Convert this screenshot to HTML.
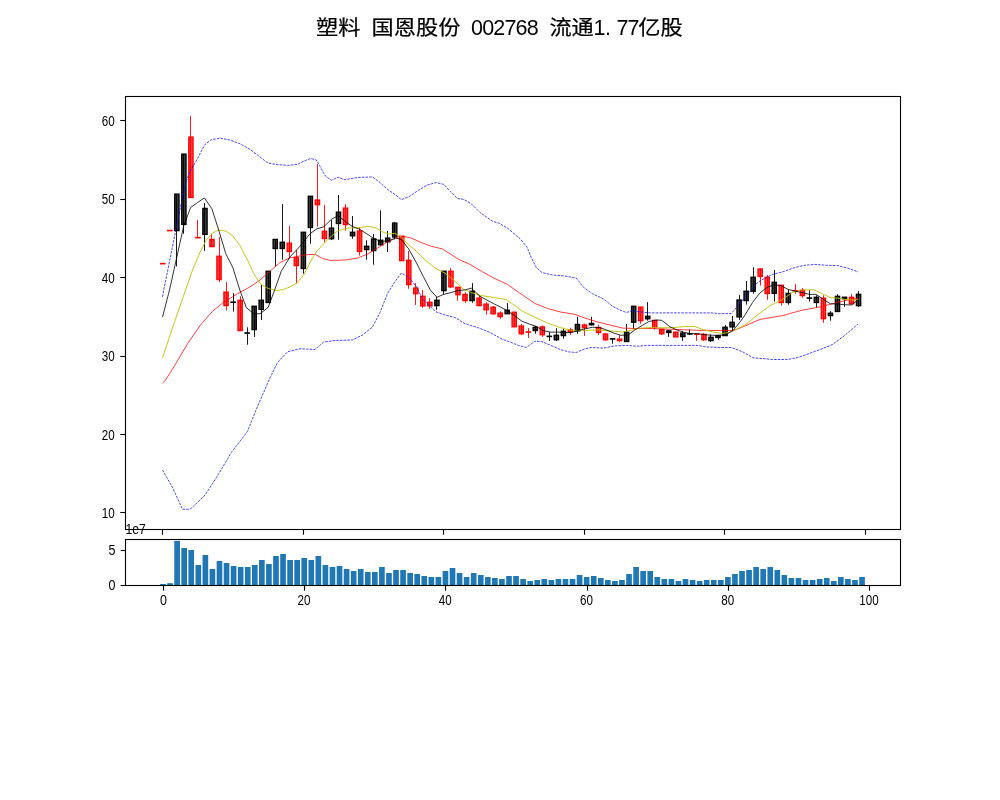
<!DOCTYPE html>
<html lang="zh"><head><meta charset="utf-8"><title>塑料 国恩股份 002768</title>
<style>html,body{margin:0;padding:0;background:#fff}body{width:1000px;height:800px;overflow:hidden}svg{display:block}.n{font-family:"Liberation Sans",sans-serif;font-size:14px;fill:#000}.t{font-family:"Liberation Sans","Noto Sans CJK SC",sans-serif;font-size:20.6px;fill:#000}</style></head><body>
<svg width="1000" height="800" viewBox="0 0 1000 800">
<rect width="1000" height="800" fill="#fff"/>
<g id="title">
<text class="t" stroke="#000" stroke-width="0.22" transform="translate(316.1,34.8) scale(1.077,1)" x="0 20.61">塑料</text>
<text class="t" stroke="#000" stroke-width="0.22" transform="translate(371.6,34.8) scale(1.077,1)" x="0 20.61 41.23 61.84">国恩股份</text>
<text class="t" style="font-size:21.5px" y="34.8" x="471 482.15 493.3 504.45 515.6 526.75">002768</text>
<text class="t" stroke="#000" stroke-width="0.22" transform="translate(549.4,34.8) scale(1.077,1)" x="0 20.61">流通</text>
<text class="t" style="font-size:21.5px" y="34.8" x="593.6 605.1 616.4 627.6">1.77</text>
<text class="t" stroke="#000" stroke-width="0.22" transform="translate(638.3,34.8) scale(1.077,1)" x="0 20.61">亿股</text>
</g>
<g id="vol" fill="#1f77b4">
<rect x="160.18" y="584" width="5.65" height="1.5"/>
<rect x="167.24" y="583.2" width="5.65" height="2.3"/>
<rect x="174.3" y="540.9" width="5.65" height="44.6"/>
<rect x="181.36" y="548" width="5.65" height="37.5"/>
<rect x="188.42" y="550" width="5.65" height="35.5"/>
<rect x="195.48" y="565" width="5.65" height="20.5"/>
<rect x="202.54" y="555" width="5.65" height="30.5"/>
<rect x="209.6" y="569" width="5.65" height="16.5"/>
<rect x="216.66" y="561" width="5.65" height="24.5"/>
<rect x="223.72" y="563" width="5.65" height="22.5"/>
<rect x="230.79" y="566" width="5.65" height="19.5"/>
<rect x="237.85" y="567" width="5.65" height="18.5"/>
<rect x="244.91" y="567" width="5.65" height="18.5"/>
<rect x="251.97" y="565" width="5.65" height="20.5"/>
<rect x="259.03" y="560" width="5.65" height="25.5"/>
<rect x="266.09" y="564" width="5.65" height="21.5"/>
<rect x="273.15" y="556" width="5.65" height="29.5"/>
<rect x="280.21" y="554" width="5.65" height="31.5"/>
<rect x="287.27" y="560" width="5.65" height="25.5"/>
<rect x="294.33" y="560" width="5.65" height="25.5"/>
<rect x="301.4" y="558" width="5.65" height="27.5"/>
<rect x="308.46" y="560" width="5.65" height="25.5"/>
<rect x="315.52" y="556" width="5.65" height="29.5"/>
<rect x="322.58" y="565" width="5.65" height="20.5"/>
<rect x="329.64" y="567" width="5.65" height="18.5"/>
<rect x="336.7" y="566" width="5.65" height="19.5"/>
<rect x="343.76" y="569" width="5.65" height="16.5"/>
<rect x="350.82" y="571" width="5.65" height="14.5"/>
<rect x="357.88" y="569" width="5.65" height="16.5"/>
<rect x="364.94" y="572" width="5.65" height="13.5"/>
<rect x="372" y="572" width="5.65" height="13.5"/>
<rect x="379.07" y="567" width="5.65" height="18.5"/>
<rect x="386.13" y="573" width="5.65" height="12.5"/>
<rect x="393.19" y="570" width="5.65" height="15.5"/>
<rect x="400.25" y="570" width="5.65" height="15.5"/>
<rect x="407.31" y="573" width="5.65" height="12.5"/>
<rect x="414.37" y="574" width="5.65" height="11.5"/>
<rect x="421.43" y="576" width="5.65" height="9.5"/>
<rect x="428.49" y="577" width="5.65" height="8.5"/>
<rect x="435.55" y="577" width="5.65" height="8.5"/>
<rect x="442.62" y="571" width="5.65" height="14.5"/>
<rect x="449.68" y="568" width="5.65" height="17.5"/>
<rect x="456.74" y="573" width="5.65" height="12.5"/>
<rect x="463.8" y="577" width="5.65" height="8.5"/>
<rect x="470.86" y="573" width="5.65" height="12.5"/>
<rect x="477.92" y="575" width="5.65" height="10.5"/>
<rect x="484.98" y="577" width="5.65" height="8.5"/>
<rect x="492.04" y="578" width="5.65" height="7.5"/>
<rect x="499.1" y="579" width="5.65" height="6.5"/>
<rect x="506.16" y="576" width="5.65" height="9.5"/>
<rect x="513.22" y="576" width="5.65" height="9.5"/>
<rect x="520.29" y="579" width="5.65" height="6.5"/>
<rect x="527.35" y="581" width="5.65" height="4.5"/>
<rect x="534.41" y="580" width="5.65" height="5.5"/>
<rect x="541.47" y="579" width="5.65" height="6.5"/>
<rect x="548.53" y="580" width="5.65" height="5.5"/>
<rect x="555.59" y="579" width="5.65" height="6.5"/>
<rect x="562.65" y="579" width="5.65" height="6.5"/>
<rect x="569.71" y="579" width="5.65" height="6.5"/>
<rect x="576.77" y="575" width="5.65" height="10.5"/>
<rect x="583.83" y="577" width="5.65" height="8.5"/>
<rect x="590.9" y="576" width="5.65" height="9.5"/>
<rect x="597.96" y="578" width="5.65" height="7.5"/>
<rect x="605.02" y="580" width="5.65" height="5.5"/>
<rect x="612.08" y="581" width="5.65" height="4.5"/>
<rect x="619.14" y="580" width="5.65" height="5.5"/>
<rect x="626.2" y="574" width="5.65" height="11.5"/>
<rect x="633.26" y="567" width="5.65" height="18.5"/>
<rect x="640.32" y="571" width="5.65" height="14.5"/>
<rect x="647.38" y="571" width="5.65" height="14.5"/>
<rect x="654.44" y="577" width="5.65" height="8.5"/>
<rect x="661.51" y="579" width="5.65" height="6.5"/>
<rect x="668.57" y="579" width="5.65" height="6.5"/>
<rect x="675.63" y="581" width="5.65" height="4.5"/>
<rect x="682.69" y="579" width="5.65" height="6.5"/>
<rect x="689.75" y="580" width="5.65" height="5.5"/>
<rect x="696.81" y="581" width="5.65" height="4.5"/>
<rect x="703.87" y="580" width="5.65" height="5.5"/>
<rect x="710.93" y="580" width="5.65" height="5.5"/>
<rect x="717.99" y="580" width="5.65" height="5.5"/>
<rect x="725.05" y="577" width="5.65" height="8.5"/>
<rect x="732.12" y="574" width="5.65" height="11.5"/>
<rect x="739.18" y="571" width="5.65" height="14.5"/>
<rect x="746.24" y="570" width="5.65" height="15.5"/>
<rect x="753.3" y="567" width="5.65" height="18.5"/>
<rect x="760.36" y="569" width="5.65" height="16.5"/>
<rect x="767.42" y="567" width="5.65" height="18.5"/>
<rect x="774.48" y="570" width="5.65" height="15.5"/>
<rect x="781.54" y="575" width="5.65" height="10.5"/>
<rect x="788.6" y="578" width="5.65" height="7.5"/>
<rect x="795.66" y="578" width="5.65" height="7.5"/>
<rect x="802.73" y="580" width="5.65" height="5.5"/>
<rect x="809.79" y="580" width="5.65" height="5.5"/>
<rect x="816.85" y="579" width="5.65" height="6.5"/>
<rect x="823.91" y="578" width="5.65" height="7.5"/>
<rect x="830.97" y="581" width="5.65" height="4.5"/>
<rect x="838.03" y="577" width="5.65" height="8.5"/>
<rect x="845.09" y="579" width="5.65" height="6.5"/>
<rect x="852.15" y="580" width="5.65" height="5.5"/>
<rect x="859.21" y="577" width="5.65" height="8.5"/>
</g>
<g id="candles" stroke-linecap="butt">
<rect x="160.65" y="263.5" width="4.3" height="0.3" fill="#ff3c3c" stroke="#ff0000" stroke-width="1.3"/>
<rect x="167.68" y="230.4" width="4.3" height="0.3" fill="#ff3c3c" stroke="#ff0000" stroke-width="1.3"/>
<rect x="174.71" y="194.1" width="4.3" height="36.5" fill="#3a3a3a" stroke="#000000" stroke-width="1.3"/>
<path d="M176.5 194.1V266.5" stroke="#000000" stroke-width="0.9" fill="none"/>
<rect x="181.73" y="154.1" width="4.3" height="70.3" fill="#3a3a3a" stroke="#000000" stroke-width="1.3"/>
<path d="M183.5 154.1V233.75" stroke="#000000" stroke-width="0.9" fill="none"/>
<rect x="188.76" y="137.1" width="4.3" height="60.4" fill="#ff3c3c" stroke="#ff0000" stroke-width="1.3"/>
<path d="M190.5 116V197.5" stroke="#ff0000" stroke-width="0.9" fill="none"/>
<rect x="195.79" y="237.5" width="4.3" height="0.3" fill="#ff3c3c" stroke="#ff0000" stroke-width="1.3"/>
<path d="M197.5 220V237.5" stroke="#ff0000" stroke-width="0.9" fill="none"/>
<rect x="202.82" y="208.4" width="4.3" height="26" fill="#3a3a3a" stroke="#000000" stroke-width="1.3"/>
<path d="M204.5 203.1V250.9" stroke="#000000" stroke-width="0.9" fill="none"/>
<rect x="209.85" y="239.4" width="4.3" height="7.2" fill="#ff3c3c" stroke="#ff0000" stroke-width="1.3"/>
<path d="M211.5 233.75V246.6" stroke="#ff0000" stroke-width="0.9" fill="none"/>
<rect x="216.87" y="256.25" width="4.3" height="23.35" fill="#ff3c3c" stroke="#ff0000" stroke-width="1.3"/>
<path d="M219.5 236.9V281.9" stroke="#ff0000" stroke-width="0.9" fill="none"/>
<rect x="223.9" y="292.1" width="4.3" height="13.5" fill="#ff3c3c" stroke="#ff0000" stroke-width="1.3"/>
<path d="M226.5 282.1V310.6" stroke="#ff0000" stroke-width="0.9" fill="none"/>
<rect x="230.93" y="302.1" width="4.3" height="0.3" fill="#3a3a3a" stroke="#000000" stroke-width="1.3"/>
<path d="M233.5 293.1V311.6" stroke="#000000" stroke-width="0.9" fill="none"/>
<rect x="237.96" y="300.25" width="4.3" height="30.35" fill="#ff3c3c" stroke="#ff0000" stroke-width="1.3"/>
<path d="M240.5 296.25V330.6" stroke="#ff0000" stroke-width="0.9" fill="none"/>
<rect x="244.99" y="332.9" width="4.3" height="0.3" fill="#3a3a3a" stroke="#000000" stroke-width="1.3"/>
<path d="M247.5 327.25V344.75" stroke="#000000" stroke-width="0.9" fill="none"/>
<rect x="252.01" y="306.25" width="4.3" height="23.35" fill="#3a3a3a" stroke="#000000" stroke-width="1.3"/>
<path d="M254.5 306.25V336.9" stroke="#000000" stroke-width="0.9" fill="none"/>
<rect x="259.04" y="300.25" width="4.3" height="9.15" fill="#3a3a3a" stroke="#000000" stroke-width="1.3"/>
<path d="M261.5 285V320" stroke="#000000" stroke-width="0.9" fill="none"/>
<rect x="266.07" y="271.25" width="4.3" height="31.25" fill="#3a3a3a" stroke="#000000" stroke-width="1.3"/>
<path d="M268.5 271.25V303" stroke="#000000" stroke-width="0.9" fill="none"/>
<rect x="273.1" y="239.4" width="4.3" height="9.1" fill="#3a3a3a" stroke="#000000" stroke-width="1.3"/>
<path d="M275.5 239.4V266.25" stroke="#000000" stroke-width="0.9" fill="none"/>
<rect x="280.13" y="242.25" width="4.3" height="6.25" fill="#3a3a3a" stroke="#000000" stroke-width="1.3"/>
<path d="M282.5 204.1V259.75" stroke="#000000" stroke-width="0.9" fill="none"/>
<rect x="287.15" y="243.1" width="4.3" height="8.4" fill="#ff3c3c" stroke="#ff0000" stroke-width="1.3"/>
<path d="M289.5 226V258.5" stroke="#ff0000" stroke-width="0.9" fill="none"/>
<rect x="294.18" y="257.75" width="4.3" height="7.85" fill="#ff3c3c" stroke="#ff0000" stroke-width="1.3"/>
<path d="M296.5 250V283.5" stroke="#ff0000" stroke-width="0.9" fill="none"/>
<rect x="301.21" y="232.25" width="4.3" height="36.25" fill="#3a3a3a" stroke="#000000" stroke-width="1.3"/>
<path d="M303.5 232.25V273.75" stroke="#000000" stroke-width="0.9" fill="none"/>
<rect x="308.24" y="196.25" width="4.3" height="31.25" fill="#3a3a3a" stroke="#000000" stroke-width="1.3"/>
<path d="M310.5 196.25V243.75" stroke="#000000" stroke-width="0.9" fill="none"/>
<rect x="315.27" y="200" width="4.3" height="4.75" fill="#ff3c3c" stroke="#ff0000" stroke-width="1.3"/>
<path d="M317.5 164V226.6" stroke="#ff0000" stroke-width="0.9" fill="none"/>
<rect x="322.29" y="231.25" width="4.3" height="7.25" fill="#ff3c3c" stroke="#ff0000" stroke-width="1.3"/>
<path d="M324.5 205V242.5" stroke="#ff0000" stroke-width="0.9" fill="none"/>
<rect x="329.32" y="228.1" width="4.3" height="10.65" fill="#3a3a3a" stroke="#000000" stroke-width="1.3"/>
<path d="M331.5 220V239.75" stroke="#000000" stroke-width="0.9" fill="none"/>
<rect x="336.35" y="212.1" width="4.3" height="11.4" fill="#3a3a3a" stroke="#000000" stroke-width="1.3"/>
<path d="M338.5 195V239.75" stroke="#000000" stroke-width="0.9" fill="none"/>
<rect x="343.38" y="208.1" width="4.3" height="16.5" fill="#ff3c3c" stroke="#ff0000" stroke-width="1.3"/>
<path d="M345.5 204.1V230.6" stroke="#ff0000" stroke-width="0.9" fill="none"/>
<rect x="350.41" y="232.25" width="4.3" height="3.5" fill="#3a3a3a" stroke="#000000" stroke-width="1.3"/>
<path d="M352.5 216V238.75" stroke="#000000" stroke-width="0.9" fill="none"/>
<rect x="357.43" y="231" width="4.3" height="20.5" fill="#ff3c3c" stroke="#ff0000" stroke-width="1.3"/>
<path d="M359.5 228.1V255.6" stroke="#ff0000" stroke-width="0.9" fill="none"/>
<rect x="364.46" y="246.25" width="4.3" height="3.35" fill="#3a3a3a" stroke="#000000" stroke-width="1.3"/>
<path d="M366.5 240.25V259.75" stroke="#000000" stroke-width="0.9" fill="none"/>
<rect x="371.49" y="239" width="4.3" height="11.6" fill="#3a3a3a" stroke="#000000" stroke-width="1.3"/>
<path d="M373.5 234V264.75" stroke="#000000" stroke-width="0.9" fill="none"/>
<rect x="378.52" y="240.25" width="4.3" height="4.5" fill="#3a3a3a" stroke="#000000" stroke-width="1.3"/>
<path d="M380.5 210.25V245.6" stroke="#000000" stroke-width="0.9" fill="none"/>
<rect x="385.55" y="238.1" width="4.3" height="3.8" fill="#3a3a3a" stroke="#000000" stroke-width="1.3"/>
<path d="M387.5 231V251.9" stroke="#000000" stroke-width="0.9" fill="none"/>
<rect x="392.57" y="223.1" width="4.3" height="13.9" fill="#3a3a3a" stroke="#000000" stroke-width="1.3"/>
<path d="M394.5 221.9V239.4" stroke="#000000" stroke-width="0.9" fill="none"/>
<rect x="399.6" y="236.25" width="4.3" height="24.35" fill="#ff3c3c" stroke="#ff0000" stroke-width="1.3"/>
<path d="M401.5 236.25V260.6" stroke="#ff0000" stroke-width="0.9" fill="none"/>
<rect x="406.63" y="260.25" width="4.3" height="24.35" fill="#ff3c3c" stroke="#ff0000" stroke-width="1.3"/>
<path d="M408.5 251V288.75" stroke="#ff0000" stroke-width="0.9" fill="none"/>
<rect x="413.66" y="288.1" width="4.3" height="5.65" fill="#ff3c3c" stroke="#ff0000" stroke-width="1.3"/>
<path d="M415.5 283.1V305" stroke="#ff0000" stroke-width="0.9" fill="none"/>
<rect x="420.69" y="296.25" width="4.3" height="9.65" fill="#ff3c3c" stroke="#ff0000" stroke-width="1.3"/>
<path d="M422.5 290V307.9" stroke="#ff0000" stroke-width="0.9" fill="none"/>
<rect x="427.71" y="302.25" width="4.3" height="3.65" fill="#ff3c3c" stroke="#ff0000" stroke-width="1.3"/>
<path d="M429.5 298.1V308.75" stroke="#ff0000" stroke-width="0.9" fill="none"/>
<rect x="434.74" y="300.25" width="4.3" height="5.35" fill="#3a3a3a" stroke="#000000" stroke-width="1.3"/>
<path d="M436.5 296.9V309.75" stroke="#000000" stroke-width="0.9" fill="none"/>
<rect x="441.77" y="271.25" width="4.3" height="19.35" fill="#3a3a3a" stroke="#000000" stroke-width="1.3"/>
<path d="M443.5 271.25V294.4" stroke="#000000" stroke-width="0.9" fill="none"/>
<rect x="448.8" y="271.25" width="4.3" height="15.65" fill="#ff3c3c" stroke="#ff0000" stroke-width="1.3"/>
<path d="M450.5 268.1V287.9" stroke="#ff0000" stroke-width="0.9" fill="none"/>
<rect x="455.83" y="287.25" width="4.3" height="7.5" fill="#ff3c3c" stroke="#ff0000" stroke-width="1.3"/>
<path d="M457.5 287.25V300.6" stroke="#ff0000" stroke-width="0.9" fill="none"/>
<rect x="462.85" y="294.4" width="4.3" height="6.2" fill="#ff3c3c" stroke="#ff0000" stroke-width="1.3"/>
<path d="M465.5 292.25V302.75" stroke="#ff0000" stroke-width="0.9" fill="none"/>
<rect x="469.88" y="291.25" width="4.3" height="9.35" fill="#3a3a3a" stroke="#000000" stroke-width="1.3"/>
<path d="M472.5 283.1V302.75" stroke="#000000" stroke-width="0.9" fill="none"/>
<rect x="476.91" y="298.1" width="4.3" height="7.5" fill="#ff3c3c" stroke="#ff0000" stroke-width="1.3"/>
<path d="M479.5 295.6V305.6" stroke="#ff0000" stroke-width="0.9" fill="none"/>
<rect x="483.94" y="304.1" width="4.3" height="5.65" fill="#ff3c3c" stroke="#ff0000" stroke-width="1.3"/>
<path d="M486.5 302.25V314.75" stroke="#ff0000" stroke-width="0.9" fill="none"/>
<rect x="490.97" y="307.25" width="4.3" height="6.5" fill="#ff3c3c" stroke="#ff0000" stroke-width="1.3"/>
<path d="M493.5 306V314.75" stroke="#ff0000" stroke-width="0.9" fill="none"/>
<rect x="497.99" y="313.1" width="4.3" height="3.5" fill="#ff3c3c" stroke="#ff0000" stroke-width="1.3"/>
<path d="M500.5 311.25V318.75" stroke="#ff0000" stroke-width="0.9" fill="none"/>
<rect x="505.02" y="310.25" width="4.3" height="3.5" fill="#3a3a3a" stroke="#000000" stroke-width="1.3"/>
<path d="M507.5 303.1V313.75" stroke="#000000" stroke-width="0.9" fill="none"/>
<rect x="512.05" y="312.2" width="4.3" height="14.6" fill="#ff3c3c" stroke="#ff0000" stroke-width="1.3"/>
<path d="M514.5 312.2V326.8" stroke="#ff0000" stroke-width="0.9" fill="none"/>
<rect x="519.08" y="326" width="4.3" height="7.75" fill="#ff3c3c" stroke="#ff0000" stroke-width="1.3"/>
<path d="M521.5 324V335" stroke="#ff0000" stroke-width="0.9" fill="none"/>
<rect x="526.11" y="331.9" width="4.3" height="0.3" fill="#ff3c3c" stroke="#ff0000" stroke-width="1.3"/>
<path d="M528.5 328.1V337.9" stroke="#ff0000" stroke-width="0.9" fill="none"/>
<rect x="533.13" y="327.25" width="4.3" height="3.35" fill="#3a3a3a" stroke="#000000" stroke-width="1.3"/>
<path d="M535.5 326V333.75" stroke="#000000" stroke-width="0.9" fill="none"/>
<rect x="540.16" y="326.9" width="4.3" height="7.85" fill="#ff3c3c" stroke="#ff0000" stroke-width="1.3"/>
<path d="M542.5 325.6V336.9" stroke="#ff0000" stroke-width="0.9" fill="none"/>
<rect x="547.19" y="336.25" width="4.3" height="0.3" fill="#3a3a3a" stroke="#000000" stroke-width="1.3"/>
<path d="M549.5 332.1V341" stroke="#000000" stroke-width="0.9" fill="none"/>
<rect x="554.22" y="335.25" width="4.3" height="4.5" fill="#3a3a3a" stroke="#000000" stroke-width="1.3"/>
<path d="M556.5 328.1V341" stroke="#000000" stroke-width="0.9" fill="none"/>
<rect x="561.25" y="331.25" width="4.3" height="4.35" fill="#3a3a3a" stroke="#000000" stroke-width="1.3"/>
<path d="M563.5 328.75V338.75" stroke="#000000" stroke-width="0.9" fill="none"/>
<rect x="568.27" y="330" width="4.3" height="1.9" fill="#ff3c3c" stroke="#ff0000" stroke-width="1.3"/>
<path d="M570.5 327.75V334.75" stroke="#ff0000" stroke-width="0.9" fill="none"/>
<rect x="575.3" y="324.4" width="4.3" height="6.5" fill="#3a3a3a" stroke="#000000" stroke-width="1.3"/>
<path d="M577.5 316.9V333.75" stroke="#000000" stroke-width="0.9" fill="none"/>
<rect x="582.33" y="325" width="4.3" height="2.75" fill="#ff3c3c" stroke="#ff0000" stroke-width="1.3"/>
<path d="M584.5 323.75V335.9" stroke="#ff0000" stroke-width="0.9" fill="none"/>
<rect x="589.36" y="323.4" width="4.3" height="1.35" fill="#3a3a3a" stroke="#000000" stroke-width="1.3"/>
<path d="M591.5 316.9V325.6" stroke="#000000" stroke-width="0.9" fill="none"/>
<rect x="596.39" y="327.5" width="4.3" height="5" fill="#ff3c3c" stroke="#ff0000" stroke-width="1.3"/>
<path d="M598.5 324.75V334.75" stroke="#ff0000" stroke-width="0.9" fill="none"/>
<rect x="603.41" y="334" width="4.3" height="5.75" fill="#ff3c3c" stroke="#ff0000" stroke-width="1.3"/>
<path d="M605.5 332.9V340.6" stroke="#ff0000" stroke-width="0.9" fill="none"/>
<rect x="610.44" y="338.75" width="4.3" height="0.3" fill="#3a3a3a" stroke="#000000" stroke-width="1.3"/>
<path d="M612.5 338.75V343.75" stroke="#000000" stroke-width="0.9" fill="none"/>
<rect x="617.47" y="339.1" width="4.3" height="1.5" fill="#ff3c3c" stroke="#ff0000" stroke-width="1.3"/>
<path d="M619.5 335V341.9" stroke="#ff0000" stroke-width="0.9" fill="none"/>
<rect x="624.5" y="332.25" width="4.3" height="9.25" fill="#3a3a3a" stroke="#000000" stroke-width="1.3"/>
<path d="M626.5 324V341.5" stroke="#000000" stroke-width="0.9" fill="none"/>
<rect x="631.53" y="306.25" width="4.3" height="16" fill="#3a3a3a" stroke="#000000" stroke-width="1.3"/>
<path d="M633.5 306.25V328.75" stroke="#000000" stroke-width="0.9" fill="none"/>
<rect x="638.55" y="307.1" width="4.3" height="13.5" fill="#ff3c3c" stroke="#ff0000" stroke-width="1.3"/>
<path d="M640.5 307.1V323.75" stroke="#ff0000" stroke-width="0.9" fill="none"/>
<rect x="645.58" y="316.25" width="4.3" height="2.5" fill="#3a3a3a" stroke="#000000" stroke-width="1.3"/>
<path d="M647.5 302.1V320.6" stroke="#000000" stroke-width="0.9" fill="none"/>
<rect x="652.61" y="320.4" width="4.3" height="7.1" fill="#ff3c3c" stroke="#ff0000" stroke-width="1.3"/>
<path d="M654.5 320.4V329.75" stroke="#ff0000" stroke-width="0.9" fill="none"/>
<rect x="659.64" y="329.4" width="4.3" height="4.35" fill="#ff3c3c" stroke="#ff0000" stroke-width="1.3"/>
<path d="M661.5 329.4V335" stroke="#ff0000" stroke-width="0.9" fill="none"/>
<rect x="666.67" y="330.9" width="4.3" height="1.6" fill="#3a3a3a" stroke="#000000" stroke-width="1.3"/>
<path d="M668.5 330V336.9" stroke="#000000" stroke-width="0.9" fill="none"/>
<rect x="673.69" y="332.1" width="4.3" height="4.8" fill="#ff3c3c" stroke="#ff0000" stroke-width="1.3"/>
<path d="M675.5 332.1V336.9" stroke="#ff0000" stroke-width="0.9" fill="none"/>
<rect x="680.72" y="333.1" width="4.3" height="3.5" fill="#3a3a3a" stroke="#000000" stroke-width="1.3"/>
<path d="M682.5 331.25V340.9" stroke="#000000" stroke-width="0.9" fill="none"/>
<rect x="687.75" y="333.75" width="4.3" height="0.3" fill="#3a3a3a" stroke="#000000" stroke-width="1.3"/>
<path d="M689.5 329.4V335" stroke="#000000" stroke-width="0.9" fill="none"/>
<rect x="694.78" y="334" width="4.3" height="0.3" fill="#ff3c3c" stroke="#ff0000" stroke-width="1.3"/>
<path d="M696.5 334V340.9" stroke="#ff0000" stroke-width="0.9" fill="none"/>
<rect x="701.81" y="334.4" width="4.3" height="5.35" fill="#ff3c3c" stroke="#ff0000" stroke-width="1.3"/>
<path d="M703.5 333.1V340.9" stroke="#ff0000" stroke-width="0.9" fill="none"/>
<rect x="708.83" y="337.25" width="4.3" height="3.35" fill="#3a3a3a" stroke="#000000" stroke-width="1.3"/>
<path d="M710.5 334.4V342.1" stroke="#000000" stroke-width="0.9" fill="none"/>
<rect x="715.86" y="335.6" width="4.3" height="1.9" fill="#3a3a3a" stroke="#000000" stroke-width="1.3"/>
<path d="M718.5 334.75V339.75" stroke="#000000" stroke-width="0.9" fill="none"/>
<rect x="722.89" y="327.25" width="4.3" height="8.35" fill="#3a3a3a" stroke="#000000" stroke-width="1.3"/>
<path d="M725.5 325V335.6" stroke="#000000" stroke-width="0.9" fill="none"/>
<rect x="729.92" y="322.25" width="4.3" height="4.65" fill="#3a3a3a" stroke="#000000" stroke-width="1.3"/>
<path d="M732.5 316V331.25" stroke="#000000" stroke-width="0.9" fill="none"/>
<rect x="736.95" y="300" width="4.3" height="16.9" fill="#3a3a3a" stroke="#000000" stroke-width="1.3"/>
<path d="M739.5 295V320" stroke="#000000" stroke-width="0.9" fill="none"/>
<rect x="743.97" y="291.25" width="4.3" height="9.35" fill="#3a3a3a" stroke="#000000" stroke-width="1.3"/>
<path d="M746.5 281V304.6" stroke="#000000" stroke-width="0.9" fill="none"/>
<rect x="751" y="277.25" width="4.3" height="14" fill="#3a3a3a" stroke="#000000" stroke-width="1.3"/>
<path d="M753.5 267.25V293.75" stroke="#000000" stroke-width="0.9" fill="none"/>
<rect x="758.03" y="269" width="4.3" height="7.5" fill="#ff3c3c" stroke="#ff0000" stroke-width="1.3"/>
<path d="M760.5 268.1V285.6" stroke="#ff0000" stroke-width="0.9" fill="none"/>
<rect x="765.06" y="277.25" width="4.3" height="16.25" fill="#ff3c3c" stroke="#ff0000" stroke-width="1.3"/>
<path d="M767.5 275V299.75" stroke="#ff0000" stroke-width="0.9" fill="none"/>
<rect x="772.09" y="282.25" width="4.3" height="11.15" fill="#3a3a3a" stroke="#000000" stroke-width="1.3"/>
<path d="M774.5 270V301.5" stroke="#000000" stroke-width="0.9" fill="none"/>
<rect x="779.11" y="285.25" width="4.3" height="17.25" fill="#ff3c3c" stroke="#ff0000" stroke-width="1.3"/>
<path d="M781.5 285.25V305.6" stroke="#ff0000" stroke-width="0.9" fill="none"/>
<rect x="786.14" y="293.4" width="4.3" height="9.1" fill="#3a3a3a" stroke="#000000" stroke-width="1.3"/>
<path d="M788.5 289.75V304.75" stroke="#000000" stroke-width="0.9" fill="none"/>
<rect x="793.17" y="290.6" width="4.3" height="0.3" fill="#ff3c3c" stroke="#ff0000" stroke-width="1.3"/>
<path d="M795.5 284V293.75" stroke="#ff0000" stroke-width="0.9" fill="none"/>
<rect x="800.2" y="290.25" width="4.3" height="5.35" fill="#ff3c3c" stroke="#ff0000" stroke-width="1.3"/>
<path d="M802.5 288.1V297.9" stroke="#ff0000" stroke-width="0.9" fill="none"/>
<rect x="807.23" y="297.9" width="4.3" height="0.3" fill="#3a3a3a" stroke="#000000" stroke-width="1.3"/>
<path d="M809.5 290.25V301.5" stroke="#000000" stroke-width="0.9" fill="none"/>
<rect x="814.25" y="297.25" width="4.3" height="5.25" fill="#3a3a3a" stroke="#000000" stroke-width="1.3"/>
<path d="M816.5 295.25V307.5" stroke="#000000" stroke-width="0.9" fill="none"/>
<rect x="821.28" y="298.2" width="4.3" height="20.5" fill="#ff3c3c" stroke="#ff0000" stroke-width="1.3"/>
<path d="M823.5 295.4V322.8" stroke="#ff0000" stroke-width="0.9" fill="none"/>
<rect x="828.31" y="313.2" width="4.3" height="2.4" fill="#3a3a3a" stroke="#000000" stroke-width="1.3"/>
<path d="M830.5 311.1V320.7" stroke="#000000" stroke-width="0.9" fill="none"/>
<rect x="835.34" y="296.3" width="4.3" height="15.2" fill="#3a3a3a" stroke="#000000" stroke-width="1.3"/>
<path d="M837.5 294.2V311.5" stroke="#000000" stroke-width="0.9" fill="none"/>
<rect x="842.37" y="297.2" width="4.3" height="1.6" fill="#3a3a3a" stroke="#000000" stroke-width="1.3"/>
<path d="M844.5 297.2V306.9" stroke="#000000" stroke-width="0.9" fill="none"/>
<rect x="849.39" y="297.3" width="4.3" height="6.45" fill="#ff3c3c" stroke="#ff0000" stroke-width="1.3"/>
<path d="M851.5 294.1V304.4" stroke="#ff0000" stroke-width="0.9" fill="none"/>
<rect x="856.42" y="294.3" width="4.3" height="11.4" fill="#3a3a3a" stroke="#000000" stroke-width="1.3"/>
<path d="M858.5 291.1V306.9" stroke="#000000" stroke-width="0.9" fill="none"/>
</g>
<g id="lines">
<path d="M162.5 296.9 L163.75 290 L181.9 200 L186.25 181.25 L190 171.25 L193.75 165 L197.5 158.75 L201.25 151.25 L205 144.4 L211.25 139.75 L220 138.1 L230 140 L240 143.75 L250 149.4 L257.5 155 L266.25 161.9 L270 163.4 L277.5 164.6 L287.5 165.4 L297.5 164.4 L305 160.6 L310.6 158.5 L316.25 160 L320 166.25 L325 175.6 L331.25 180.25 L338.1 177.25 L345 179.75 L357.5 177.5 L372.5 176.9 L380 182.5 L387.5 189.4 L395 194.5 L401.25 199.6 L408.75 196.9 L418.75 190 L427.5 185 L436.25 182.5 L443.75 184.4 L450 191.25 L457.5 198.5 L463.75 199.4 L471.25 203.75 L480 212.5 L492.5 221.25 L498.75 223.1 L507.5 228.1 L515 234.4 L520 238.75 L526.9 246.9 L531.25 257.5 L536.25 267.5 L541.9 272.5 L552.5 275 L565 276 L576.25 278.1 L583.75 287.5 L592.5 293.75 L603.75 299 L612.5 306.25 L620 310 L626.25 312.5 L632.5 310.6 L640 311.9 L650 312.9 L712.5 312.9 L720 313.75 L731.25 313.5 L737.5 306.25 L743.75 298.75 L751.25 290 L757.5 282.5 L765 278.1 L772.5 274.4 L782.5 271.9 L795 267.5 L805 265.25 L815 264.4 L826.25 265.25 L837.5 265.6 L847.5 268.1 L858.1 271.9" fill="none" stroke="#0000ff" stroke-width="0.72" stroke-linejoin="round" stroke-dasharray="2.57 1.11"/>
<path d="M162.5 470 L172.5 487.5 L182.5 509.25 L190 509.25 L197.5 502.5 L205 495 L212.5 483.75 L222.5 467.5 L231.25 452.5 L240 441.25 L247.5 431.25 L255 412.5 L262.5 395 L270 378 L277.5 362.5 L287.5 351.75 L300 348.75 L315 349.5 L323.75 342 L335 340.5 L352.5 340 L362.5 335 L372.5 327 L380 312.5 L387.5 293.5 L395 281.5 L401.5 273 L408.75 277.5 L416.25 286.25 L422.5 298.75 L430 306.25 L436.25 311.9 L445 315 L455 317.5 L465 323.75 L477.5 327.5 L490 332.5 L502.5 339.4 L510 341.9 L518.75 345.6 L526.25 347.5 L535 341.25 L541.25 341.5 L550 345 L560 349.4 L568.75 351.9 L576.25 352.5 L585 348.75 L591.25 347.5 L603.75 348.1 L613.75 346 L626.25 345.4 L637.5 346.25 L646.25 345.4 L697.5 345.4 L706.25 346.9 L720 347.5 L731.25 347.5 L742.5 351.75 L753 357.75 L762 358.5 L772.5 359.5 L787.5 359.5 L798 357.5 L810 353.25 L822 348.75 L832.5 344.5 L843 336.75 L852 329.25 L858 324" fill="none" stroke="#0000ff" stroke-width="0.72" stroke-linejoin="round" stroke-dasharray="2.57 1.11"/>
<path d="M162.5 383.25 L165.6 380 L175 365 L187.5 343.75 L200 325.6 L212.5 311.25 L222.5 303.1 L237.5 293.75 L250 286.9 L260 280 L270 271.25 L280 262.5 L290 257.75 L300 256 L308.75 254.4 L315.6 254.6 L322.5 258.5 L330 260.4 L345 260 L357.5 258.1 L367.5 254 L377.5 248.1 L387.5 241.9 L390 241 L397.5 236.9 L403.75 236.25 L411.25 238.1 L421.25 242.5 L431.25 246.25 L442.5 249 L450 253.75 L458.75 259.4 L470 264.4 L482.5 271.9 L493.75 278.1 L507.5 284.4 L510 286.25 L522.5 295 L535 303.5 L547.5 308.5 L560 311.9 L575 314.4 L585 318.1 L597.5 321.9 L610 325 L622.5 328.1 L635 328.5 L650 328.5 L675 329.4 L700 330.4 L725 330.6 L733.75 330.4 L741.25 327.5 L750 323.75 L760 319.4 L782.5 315.6 L801.25 310.4 L820 306.9 L832.5 303.75 L845 300.6 L858.6 298.1" fill="none" stroke="#ff0000" stroke-width="0.75" stroke-linejoin="round"/>
<path d="M162.5 357.75 L175 320.5 L185.6 290 L192.5 270 L200 252.5 L206.25 240 L212.5 233.1 L218.75 230 L226.25 231.25 L232.5 235.6 L240 245.6 L247.5 260 L253.75 273.75 L260 283.1 L266.25 287.5 L270 289 L276.25 290.6 L282.5 289.75 L290 286.9 L296.25 283.5 L303.75 275 L310 262.5 L316.25 251.9 L323.75 243.75 L331.25 236.25 L337.5 231 L347.5 228.1 L357.5 227.75 L368.75 226.25 L376.25 228.1 L382.5 231.9 L388.75 234.2 L395 233.3 L401.25 236.9 L408.75 245 L415 250 L425 260 L436.25 268.75 L445 273.1 L455 281.25 L463.75 289.4 L471.25 292.5 L480 295.25 L493.75 297.5 L506.25 299.4 L510 302.25 L515 305.6 L522.5 311.25 L535 317.25 L547.5 323.1 L560 327.5 L572.5 330.6 L585 330.6 L597.5 329.75 L610 331 L622.5 331.9 L635 329.4 L637.5 328.5 L650 327.5 L662.5 327.75 L675 327.5 L685 326.5 L695 326.5 L702.5 329.4 L712.5 331.9 L722.5 333.5 L731.25 331.9 L740 327.5 L745 325 L757.5 315 L770 305.6 L782.5 299.4 L792.5 292.5 L801.25 290 L813.75 289.75 L822.5 293.75 L830 297.5 L837.5 298.1 L845 299.4 L852.5 300 L858.6 299.4" fill="none" stroke="#bfbf00" stroke-width="0.9" stroke-linejoin="round"/>
<path d="M162.5 317.1 L169.5 290 L176.6 258 L183.65 226.25 L190.6 207.5 L197.6 202.5 L204.4 197.9 L211.9 208.75 L218.7 230 L225.8 253.75 L232.8 267.5 L239.8 290 L246.25 307.5 L253.75 313.75 L260 313.75 L268.1 307.5 L275 289 L281.25 271.25 L290 256.9 L300 246.25 L310 233.75 L316.9 228.75 L323.75 226.9 L331.25 219.4 L338.1 215.6 L345 221.25 L352.5 226.6 L360 229.4 L373.75 238.4 L381 241.5 L388 241 L395.6 238.1 L401.25 239.4 L408.75 249 L416.25 262.5 L423.3 276.5 L430.3 290 L436.9 297.25 L443.75 294.4 L451 292.5 L458.1 290.6 L465.6 289.75 L471.25 288.1 L480 296.25 L486.8 300 L493.75 303.75 L500.9 307.25 L507.95 311 L515 316 L522 321.25 L529.1 324 L536.1 326.25 L543.2 330.6 L550.25 332.1 L557.3 332.1 L564.4 332.5 L571.4 332.5 L578.5 330.4 L585.5 328.75 L592.5 327.25 L599.6 327.5 L606.6 330 L613.75 333.1 L620.75 335.25 L627.8 335 L634.9 330 L641.9 325.6 L649 321.5 L656 320 L661.25 320.25 L663 321.25 L670.1 326.9 L677.1 330 L684.25 332.5 L691.25 333.5 L698.25 333.75 L705.4 334.75 L712.4 335.25 L719.5 335.25 L726.5 334.4 L733.5 330 L740.6 321.25 L745 315 L752.5 302.5 L759.75 293.1 L766.9 287.5 L773.75 284.75 L780.9 285.6 L788.1 289.4 L795.4 291.25 L802.1 292.5 L809.4 294.4 L816.25 294.4 L823.4 299.4 L830.4 303.75 L837.5 304 L844.4 304.75 L851.5 305 L858.6 299.4" fill="none" stroke="#000000" stroke-width="0.8" stroke-linejoin="round"/>
</g>
<g id="axes" stroke="#000" stroke-width="1.1" fill="none">
<rect x="125.5" y="96.5" width="775.0" height="433"/>
<rect x="125.5" y="539.5" width="775.0" height="46"/>
<path d="M120.3 120.5H125.5"/>
<path d="M120.3 199.5H125.5"/>
<path d="M120.3 277.5H125.5"/>
<path d="M120.3 356.5H125.5"/>
<path d="M120.3 434.5H125.5"/>
<path d="M120.3 512.5H125.5"/>
<path d="M162.5 529.5V534.7"/>
<path d="M163.5 585.5V590.7"/>
<path d="M303.5 529.5V534.7"/>
<path d="M304.5 585.5V590.7"/>
<path d="M443.5 529.5V534.7"/>
<path d="M445.5 585.5V590.7"/>
<path d="M584.5 529.5V534.7"/>
<path d="M587.5 585.5V590.7"/>
<path d="M724.5 529.5V534.7"/>
<path d="M728.5 585.5V590.7"/>
<path d="M865.5 529.5V534.7"/>
<path d="M869.5 585.5V590.7"/>
<path d="M120.6 585.5H125.5"/>
<path d="M120.6 550.5H125.5"/>
</g>
<g id="labels">
<text class="n" transform="translate(114.8,126.1) scale(0.83,1)" text-anchor="end">60</text>
<text class="n" transform="translate(114.8,204.1) scale(0.83,1)" text-anchor="end">50</text>
<text class="n" transform="translate(114.8,283.1) scale(0.83,1)" text-anchor="end">40</text>
<text class="n" transform="translate(114.8,361.1) scale(0.83,1)" text-anchor="end">30</text>
<text class="n" transform="translate(114.8,440.1) scale(0.83,1)" text-anchor="end">20</text>
<text class="n" transform="translate(114.8,518.1) scale(0.83,1)" text-anchor="end">10</text>
<text class="n" transform="translate(115.4,590.1) scale(0.893,1)" text-anchor="end">0</text>
<text class="n" transform="translate(115.4,555.1) scale(0.893,1)" text-anchor="end">5</text>
<text class="n" transform="translate(163.4,605.2) scale(0.893,1)" text-anchor="middle">0</text>
<text class="n" transform="translate(304.02,605.2) scale(0.83,1)" text-anchor="middle">20</text>
<text class="n" transform="translate(445.24,605.2) scale(0.83,1)" text-anchor="middle">40</text>
<text class="n" transform="translate(586.46,605.2) scale(0.83,1)" text-anchor="middle">60</text>
<text class="n" transform="translate(727.68,605.2) scale(0.83,1)" text-anchor="middle">80</text>
<text class="n" transform="translate(869,605.2) scale(0.83,1)" text-anchor="middle">100</text>
<text class="n" transform="translate(125.4,534) scale(0.87,1)" text-anchor="start">1e7</text>
</g>
</svg></body></html>
